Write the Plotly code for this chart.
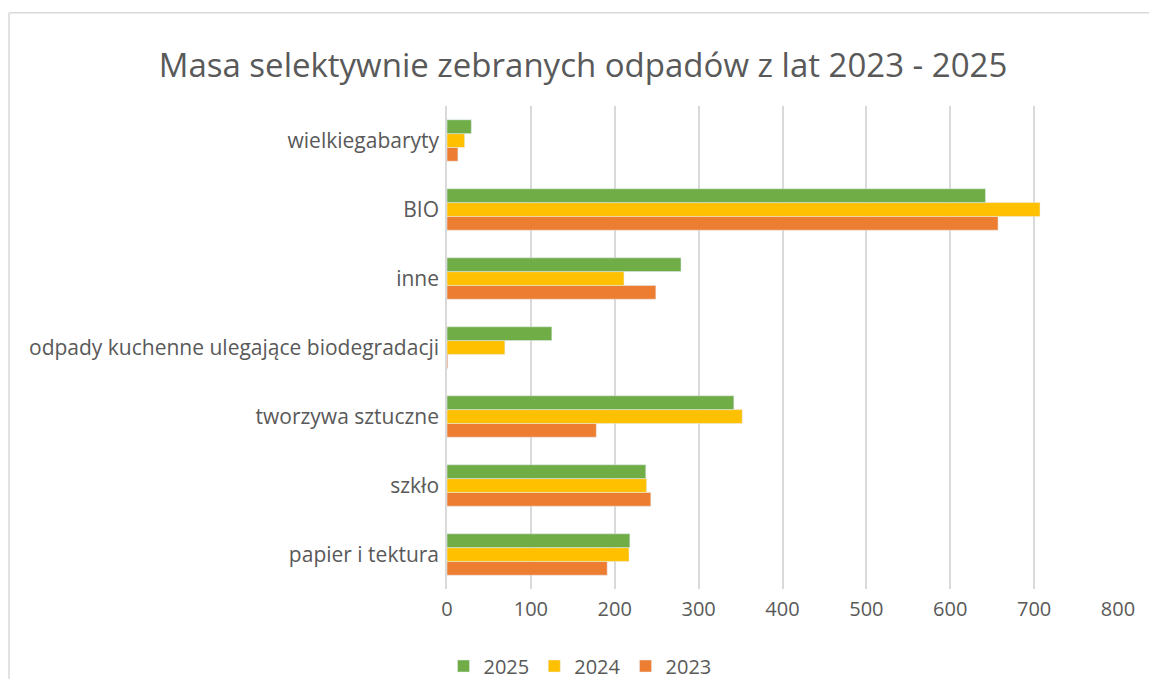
import plotly.graph_objects as go

categories = ["papier i tektura", "szkło", "tworzywa sztuczne",
              "odpady kuchenne ulegające biodegradacji", "inne", "BIO",
              "wielkiegabaryty"]
v2023 = [191, 243, 178, 1, 249, 657, 13]
v2024 = [217, 238, 352, 69, 211, 707, 21]
v2025 = [218, 237, 342, 125, 279, 642, 29]

font = "Open Sans"
grey = "#595959"

fig = go.Figure()
fig.add_trace(go.Bar(y=categories, x=v2023, name="2023", orientation="h", marker_color="#ED7D31"))
fig.add_trace(go.Bar(y=categories, x=v2024, name="2024", orientation="h", marker_color="#FFC000"))
fig.add_trace(go.Bar(y=categories, x=v2025, name="2025", orientation="h", marker_color="#70AD47"))

# plot area 447..1118 x 105.5..589.5
fig.update_layout(
    width=1149, height=679,
    margin=dict(l=447, r=31, t=105.5, b=89.5),
    paper_bgcolor="white", plot_bgcolor="white",
    barmode="group", bargap=0.4, bargroupgap=0,
    font=dict(family=font, color=grey),
    title=dict(text="Masa selektywnie zebranych odpadów z lat 2023 - 2025",
               x=583 / 1149, xanchor="center", y=1 - 65 / 679, yanchor="middle",
               font=dict(size=33, color=grey, family=font)),
    legend=dict(orientation="h", xref="container", yref="container",
                x=580 / 1149, xanchor="center", y=1 - 666 / 679, yanchor="middle",
                traceorder="reversed", font=dict(size=20, color=grey), itemwidth=30),
    showlegend=True,
)
fig.update_xaxes(range=[0, 800], dtick=100, showgrid=True, gridcolor="#D9D9D9", gridwidth=1.5,
                 zeroline=False, showline=False, ticks="", tickfont=dict(size=20, color=grey),
                 ticklabelstandoff=6, fixedrange=True, automargin=False)
fig.update_yaxes(type="category", showline=True, linecolor="#D9D9D9", linewidth=1.5,
                 ticks="", tickfont=dict(size=21, color=grey), ticklabelstandoff=2,
                 automargin=False, fixedrange=True)

# outer chart border (top and left edges visible)
fig.add_shape(type="line", xref="paper", yref="paper", x0=(9 - 447) / 671, x1=1.2,
              y0=(589.5 - 12) / 484, y1=(589.5 - 12) / 484, line=dict(color="#D9D9D9", width=1.5))
fig.add_shape(type="line", xref="paper", yref="paper", x0=(9 - 447) / 671, x1=(9 - 447) / 671,
              y0=(589.5 - 12) / 484, y1=-0.3, line=dict(color="#D9D9D9", width=1.5))

fig.write_html("out.html", config={"displayModeBar": False},
               post_script="document.body.style.margin='0';")
